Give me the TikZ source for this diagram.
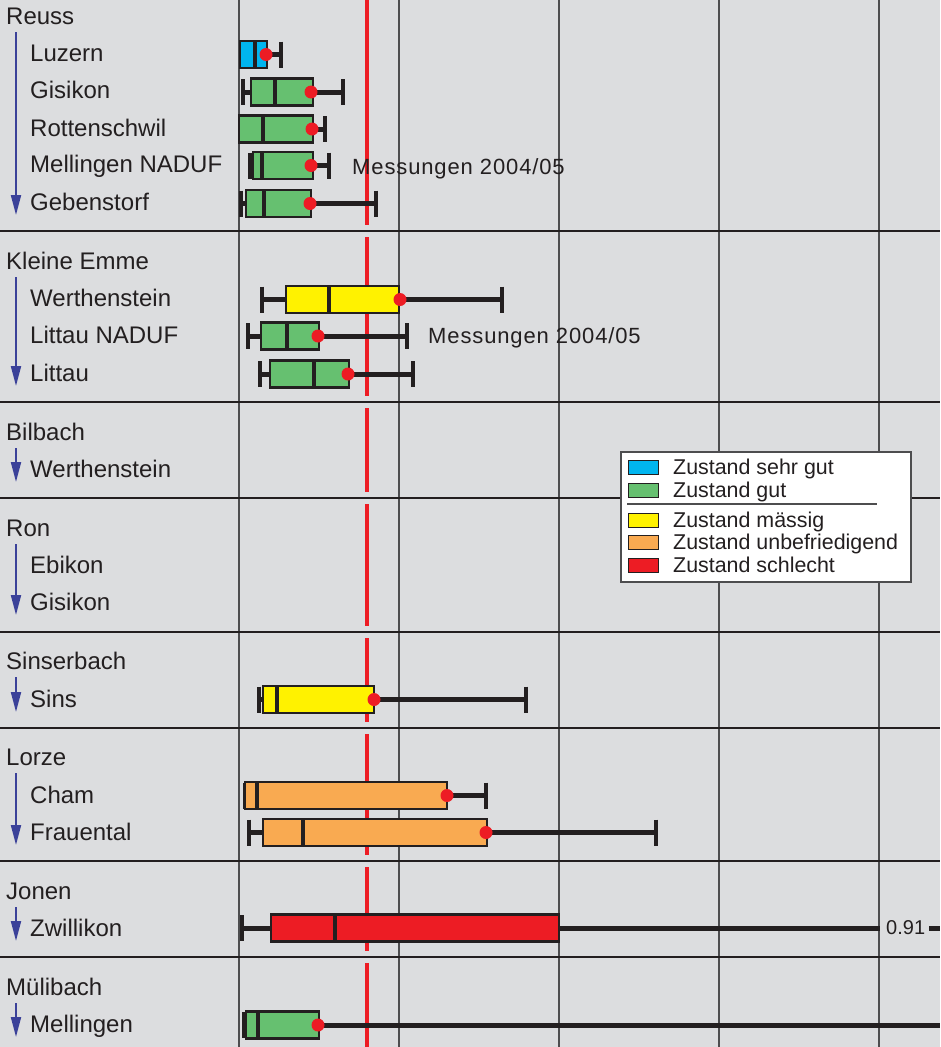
\documentclass[tikz,border=0pt]{standalone}
\usepackage{fontspec}
\setmainfont{Liberation Sans}
\newfontfamily\spacedfont[LetterSpace=4]{Liberation Sans}
\usetikzlibrary{arrows.meta}

\definecolor{paper}{HTML}{DCDDDF}
\definecolor{ink}{HTML}{231F20}
\definecolor{gridgrey}{HTML}{4D4D4F}
\definecolor{riverblue}{HTML}{3B4199}
\definecolor{qblue}{HTML}{00B5EF}
\definecolor{qgreen}{HTML}{66C070}
\definecolor{qyellow}{HTML}{FFF200}
\definecolor{qorange}{HTML}{F9AA51}
\definecolor{qred}{HTML}{ED1C24}

% lower whisker, box and median: y, lower end, box left, median, box right, fill
\newcommand{\bxlow}[6]{%
  \draw[whisker] (#2,#1) -- (#3,#1);
  \draw[capline] (#2,{#1-13}) -- (#2,{#1+13});
  \filldraw[boxline, fill=#6] (#3,{#1-13.5}) rectangle (#5,{#1+13.5});
  \draw[medline] (#4,{#1-13.5}) -- (#4,{#1+13.5});
}
% upper whisker: y, box right, upper end
\newcommand{\bxhigh}[3]{%
  \draw[whisker] (#2,#1) -- (#3,#1);
  \draw[capline] (#3,{#1-13}) -- (#3,{#1+13});
}

\begin{document}
\begin{tikzpicture}[
  x=1pt, y=-1pt,
  grid/.style={draw=gridgrey, line width=1.1pt},
  sep/.style={draw=ink, line width=2.5pt},
  refline/.style={draw=qred, line width=3.6pt},
  whisker/.style={draw=ink, line width=5pt},
  capline/.style={draw=ink, line width=4.5pt},
  boxline/.style={draw=ink, line width=2.3pt},
  medline/.style={draw=ink, line width=4.5pt},
  meandot/.style={fill=qred},
  river/.style={anchor=west, inner sep=0pt, text height=17.2pt, text depth=0pt,
    font=\fontsize{24}{28}\selectfont, text=ink},
  station/.style={river},
  flow/.style={draw=riverblue, line width=2pt, -{Triangle[length=20pt,width=10pt]}},
  note/.style={anchor=west, inner sep=0pt, text height=15.7pt, text depth=0pt,
    font=\spacedfont\fontsize{22}{26}\selectfont, text=ink},
  swatch/.style={draw=ink, line width=0.8pt, minimum width=30pt, minimum height=14pt, inner sep=0pt},
  legtext/.style={anchor=west, inner sep=0pt, text height=15pt, text depth=0pt,
    font=\fontsize{21.4}{25}\selectfont, text=ink}
]
\useasboundingbox (0,0) rectangle (940,1047);
\fill[paper] (0,0) rectangle (940,1047);

% --- grid ---
\foreach \gx in {239,399,559,719,879}
  \draw[grid] (\gx,0) -- (\gx,1047);
\foreach \sy in {231,402,498,632,728,861,957}
  \draw[sep] (0,\sy) -- (940,\sy);

% --- reference value ---
\foreach \ya/\yb in {0/225,237/396,408/492,504/626,638/722,734/855,867/951,963/1047}
  \draw[refline] (367,\ya) -- (367,\yb);

% --- Reuss ---
\bxlow{54.5}{241}{240}{255}{267}{qblue}   \bxhigh{54.5}{267}{281}
\fill[meandot] (266,54.5) circle (6.5pt);
\bxlow{92}{243}{251}{275}{313}{qgreen}    \bxhigh{92}{313}{343}
\fill[meandot] (311,92) circle (6.5pt);
\bxlow{129}{240}{239}{263}{313}{qgreen}   \bxhigh{129}{313}{325}
\fill[meandot] (312,129) circle (6.5pt);
\bxlow{165.5}{250}{253}{262}{313}{qgreen} \bxhigh{165.5}{313}{329}
\fill[meandot] (311,165.5) circle (6.5pt);
\bxlow{203.5}{241}{246}{264}{311}{qgreen} \bxhigh{203.5}{311}{376}
\fill[meandot] (310,203.5) circle (6.5pt);

% --- Kleine Emme ---
\bxlow{299.5}{262}{286}{329}{399}{qyellow} \bxhigh{299.5}{399}{502}
\fill[meandot] (400,299.5) circle (6.5pt);
\bxlow{336}{248}{261}{287}{319}{qgreen}    \bxhigh{336}{319}{407}
\fill[meandot] (318,336) circle (6.5pt);
\bxlow{374}{260}{270}{314}{349}{qgreen}    \bxhigh{374}{349}{413}
\fill[meandot] (348,374) circle (6.5pt);

% --- Sinserbach ---
\bxlow{699.5}{259}{263}{277}{374}{qyellow} \bxhigh{699.5}{374}{526}
\fill[meandot] (374,699.5) circle (6.5pt);

% --- Lorze ---
\bxlow{795.5}{245}{245}{257}{447}{qorange} \bxhigh{795.5}{447}{486}
\fill[meandot] (447,795.5) circle (6.5pt);
\bxlow{832.5}{249}{263}{303}{487}{qorange} \bxhigh{832.5}{487}{656}
\fill[meandot] (486,832.5) circle (6.5pt);

% --- Jonen ---
\bxlow{928}{242}{271}{335}{559}{qred}
\coordinate (zwcut) at (880,928);
\coordinate (zwend) at (940,928);
\node[anchor=west, inner sep=0pt, font=\fontsize{20}{24}\selectfont, text=ink] (zwmax) at (886,928) {0.91};
\draw[whisker] (559,928) -- (zwcut);
\draw[whisker] ([xshift=4pt]zwmax.east) -- (zwend);

% --- Mülibach ---
\bxlow{1025}{244}{246}{258}{319}{qgreen}
\coordinate (mlend) at (940,1025);
\draw[whisker] (319,1025) -- (mlend);
\fill[meandot] (318,1025) circle (6.5pt);

% --- labels ---
\node[river] (reuss) at (6,16) {Reuss};
\node[station] (luzern) at (30,53) {Luzern};
\node[station] (gisikonR) at (30,90) {Gisikon};
\node[station] (rottenschwil) at (30,128) {Rottenschwil};
\node[station] (mellingenN) at (30,164) {Mellingen NADUF};
\node[station] (gebenstorf) at (30,202) {Gebenstorf};
\node[river] (kemme) at (6,261) {Kleine Emme};
\node[station] (werthK) at (30,298) {Werthenstein};
\node[station] (littauN) at (30,335) {Littau NADUF};
\node[station] (littau) at (30,373) {Littau};
\node[river] (bilbach) at (6,432) {Bilbach};
\node[station] (werthB) at (30,469) {Werthenstein};
\node[river] (ron) at (6,528) {Ron};
\node[station] (ebikon) at (30,565) {Ebikon};
\node[station] (gisikonRo) at (30,602) {Gisikon};
\node[river] (sinserbach) at (6,661) {Sinserbach};
\node[station] (sins) at (30,699) {Sins};
\node[river] (lorze) at (6,757) {Lorze};
\node[station] (cham) at (30,795) {Cham};
\node[station] (frauental) at (30,832) {Frauental};
\node[river] (jonen) at (6,891) {Jonen};
\node[station] (zwillikon) at (30,928) {Zwillikon};
\node[river] (muelibach) at (6,987) {Mülibach};
\node[station] (mellingen) at (30,1024) {Mellingen};

% --- flow direction ---
\coordinate (reussA) at (16,32);      \coordinate (reussB) at (16,215);
\coordinate (kemmeA) at (16,277);     \coordinate (kemmeB) at (16,386);
\coordinate (bilbachA) at (16,448);   \coordinate (bilbachB) at (16,482);
\coordinate (ronA) at (16,544);       \coordinate (ronB) at (16,615);
\coordinate (sinsA) at (16,677);      \coordinate (sinsB) at (16,712);
\coordinate (lorzeA) at (16,773);     \coordinate (lorzeB) at (16,845);
\coordinate (jonenA) at (16,907);     \coordinate (jonenB) at (16,941);
\coordinate (muelibachA) at (16,1003);\coordinate (muelibachB) at (16,1037);
\draw[flow] (reussA) -- (reussB);
\draw[flow] (kemmeA) -- (kemmeB);
\draw[flow] (bilbachA) -- (bilbachB);
\draw[flow] (ronA) -- (ronB);
\draw[flow] (sinsA) -- (sinsB);
\draw[flow] (lorzeA) -- (lorzeB);
\draw[flow] (jonenA) -- (jonenB);
\draw[flow] (muelibachA) -- (muelibachB);

% --- notes ---
\node[note] (noteReuss) at (352,167) {Messungen 2004/05};
\node[note] (noteKemme) at (428,336) {Messungen 2004/05};

% --- legend ---
\filldraw[fill=white, draw=gridgrey, line width=1.2pt] (621,452) rectangle (911,582);
\node[swatch, fill=qblue] (swBlue) at (643,467) {};
\node[swatch, fill=qgreen] (swGreen) at (643,490) {};
\node[swatch, fill=qyellow] (swYellow) at (643,520) {};
\node[swatch, fill=qorange] (swOrange) at (643,542) {};
\node[swatch, fill=qred] (swRed) at (643,565) {};
\node[legtext] (ltBlue) at (673,467) {Zustand sehr gut};
\node[legtext] (ltGreen) at (673,490) {Zustand gut};
\node[legtext] (ltYellow) at (673,520) {Zustand mässig};
\node[legtext] (ltOrange) at (673,542) {Zustand unbefriedigend};
\node[legtext] (ltRed) at (673,565) {Zustand schlecht};
\draw[draw=gridgrey, line width=1.2pt] (627,504) -- (877,504);

\end{tikzpicture}
\end{document}
